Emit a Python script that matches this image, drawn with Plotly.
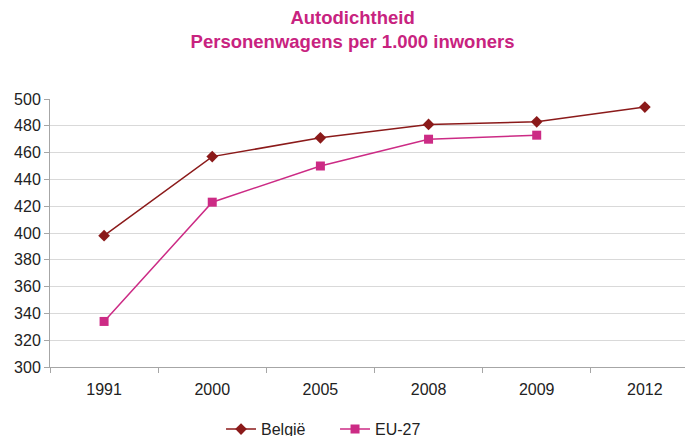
import plotly.graph_objects as go

years = ["1991", "2000", "2005", "2008", "2009", "2012"]
belgie = [398, 457, 471, 481, 483, 494]
eu_years = ["1991", "2000", "2005", "2008", "2009"]
eu27 = [334, 423, 450, 470, 473]

fig = go.Figure()
fig.add_trace(go.Scatter(
    x=years, y=belgie, mode="lines+markers", name="België",
    line=dict(color="#8B1A1A", width=1.5),
    marker=dict(symbol="diamond", size=9, color="#8B1A1A")
))
fig.add_trace(go.Scatter(
    x=eu_years, y=eu27, mode="lines+markers", name="EU-27",
    line=dict(color="#CC2B85", width=1.5),
    marker=dict(symbol="square", size=9, color="#CC2B85")
))

# page body has an 8px margin, so the figure is sized to fit the window
fig.update_layout(
    width=685, height=428,
    margin=dict(l=42, r=0, t=91, b=69, autoexpand=False),
    plot_bgcolor="white", paper_bgcolor="white",
    font=dict(family="Liberation Sans, Arial, sans-serif", size=16, color="#222222"),
    title=dict(
        text="<b>Autodichtheid<br>Personenwagens per 1.000 inwoners</b>",
        x=0.503, xanchor="center", xref="container",
        y=0.962, yanchor="middle", yref="container",
        font=dict(size=18.5, color="#C8237F")
    ),
    xaxis=dict(
        type="category", categoryorder="array", categoryarray=years,
        range=[-0.5, 5.445], tickson="boundaries",
        ticks="outside", ticklen=5, tickcolor="#A6A6A6",
        showline=True, linecolor="#A6A6A6", linewidth=1,
        showgrid=False, ticklabelstandoff=8
    ),
    yaxis=dict(
        range=[300, 500], dtick=20,
        ticks="outside", ticklen=5, tickcolor="#A6A6A6",
        showline=True, linecolor="#A6A6A6", linewidth=1,
        showgrid=True, gridcolor="#D9D9D9", gridwidth=1,
        zeroline=False
    ),
    legend=dict(
        orientation="h", x=0.311, xanchor="left", xref="container",
        y=0.016, yanchor="middle", yref="container",
        entrywidth=69, font=dict(size=16, color="#222222")
    ),
    showlegend=True
)

fig.write_html("out.html")
